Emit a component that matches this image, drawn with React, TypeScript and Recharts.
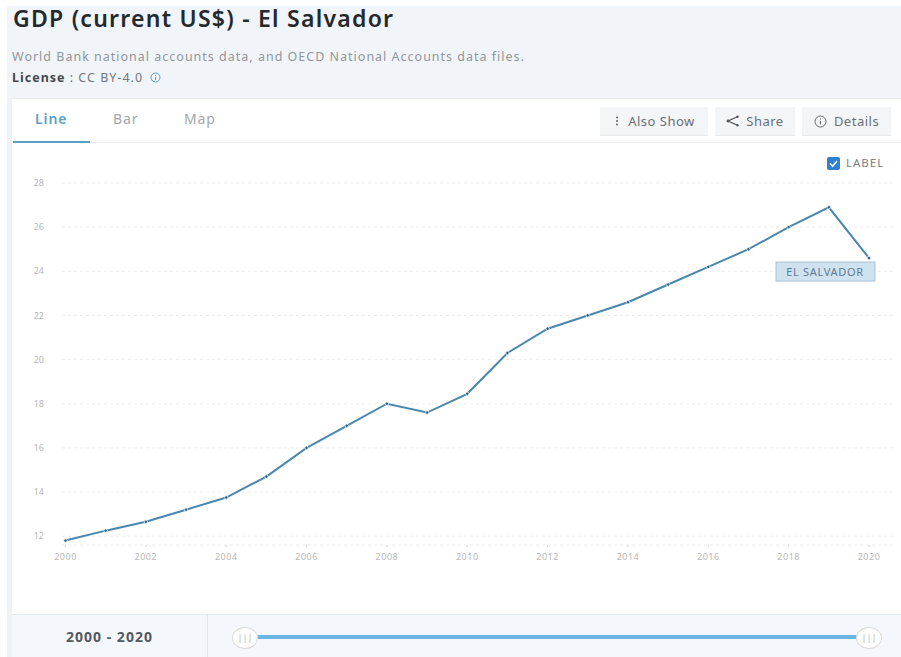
import React from "react";
import { LineChart, Line, XAxis, YAxis, CartesianGrid, LabelList } from "recharts";

const years = [2000, 2001, 2002, 2003, 2004, 2005, 2006, 2007, 2008, 2009, 2010, 2011, 2012, 2013, 2014, 2015, 2016, 2017, 2018, 2019, 2020];
const gdp = [11.8, 12.25, 12.65, 13.2, 13.75, 14.7, 16.0, 17.0, 18.0, 17.6, 18.45, 20.3, 21.4, 22.0, 22.6, 23.4, 24.2, 25.0, 26.0, 26.9, 24.6];
const yTicks = [12, 14, 16, 18, 20, 22, 24, 26, 28];
const xTicks = [2000, 2002, 2004, 2006, 2008, 2010, 2012, 2014, 2016, 2018, 2020];
const seriesName = "EL SALVADOR";

const rows = years.map((year, i) => ({ year, gdp: gdp[i] }));
const font = "'Noto Sans', sans-serif";

const abs = (left: number, top: number, extra: React.CSSProperties = {}): React.CSSProperties => ({
  position: "absolute",
  left,
  top,
  whiteSpace: "nowrap",
  ...extra,
});

function Button({ left, width, icon, text }: { left: number; width: number; icon: React.ReactNode; text: string }) {
  return (
    <div
      style={abs(left, 107, {
        width,
        height: 28,
        background: "#f3f5f7",
        borderBottom: "1px solid #e8ebee",
        color: "#6a6f74",
        fontSize: 13,
        letterSpacing: 0.5,
        lineHeight: "27px",
        display: "flex",
        justifyContent: "center",
        gap: 7,
        alignItems: "center",
      })}
    >
      {icon}
      <span>{text}</span>
    </div>
  );
}

function Handle({ cx }: { cx: number }) {
  return (
    <div
      style={abs(cx - 13, 627, {
        width: 24,
        height: 20,
        borderRadius: "50%",
        background: "#fff",
        border: "1px solid #dcdcdc",
        color: "#b5b5b5",
        fontSize: 9,
        lineHeight: "20px",
        textAlign: "center",
      })}
    >
      |||
    </div>
  );
}

// Callout box hung under the final point of the series
function SeriesTag(props: any) {
  const { x, y, index } = props;
  if (index !== years.length - 1) return null;
  return (
    <g>
      <rect x={x - 93} y={y + 4} width={99} height={19} fill="#cfe2f0" stroke="#a9c3d6" />
      <text x={x - 44} y={y + 18} textAnchor="middle" fontSize={11} letterSpacing={0.7} fill="#5f7b90" fontFamily={font}>
        {seriesName}
      </text>
    </g>
  );
}

export default function App() {
  return (
    <div style={{ position: "absolute", left: 0, top: 0, width: 901, height: 657, overflow: "hidden", background: "#fff", fontFamily: font }}>
      <div style={abs(7, 6, { width: 894, height: 92, background: "#f1f4f8" })} />
      <div style={abs(7, 98, { width: 5, height: 559, background: "#eef1f5" })} />
      <div style={abs(13, 5, { fontSize: 23, fontWeight: 600, letterSpacing: 1.25, color: "#24292e", lineHeight: "26px" })}>GDP (current US$) - El Salvador</div>
      <div style={abs(12, 49, { fontSize: 12.5, letterSpacing: 1, color: "#92979c", lineHeight: "16px" })}>
        World Bank national accounts data, and OECD National Accounts data files.
      </div>
      <div style={abs(12, 70, { fontSize: 12.5, letterSpacing: 1, color: "#72777c", lineHeight: "16px" })}>
        <b style={{ color: "#44494d" }}>License</b> : CC BY-4.0
        <svg width={11} height={11} style={{ marginLeft: 7, verticalAlign: -1 }}>
          <circle cx={5.5} cy={5.5} r={4.5} fill="none" stroke="#4aa3dc" />
          <path d="M5.5 5v3M5.5 3v1" stroke="#4aa3dc" />
        </svg>
      </div>

      <div style={abs(12, 98, { width: 889, height: 1, background: "#e9ecef" })} />
      <div style={abs(12, 142, { width: 889, height: 1, background: "#eceef0" })} />
      <div style={abs(13, 141, { width: 77, height: 2, background: "#5b9fc4" })} />
      <div style={abs(35, 109, { fontSize: 14, letterSpacing: 0.9, fontWeight: 600, color: "#5ba0c8", lineHeight: "20px" })}>Line</div>
      <div style={abs(113, 109, { fontSize: 14, letterSpacing: 0.9, color: "#a4a8ac", lineHeight: "20px" })}>Bar</div>
      <div style={abs(184, 109, { fontSize: 14, letterSpacing: 0.9, color: "#a4a8ac", lineHeight: "20px" })}>Map</div>

      <Button
        left={600}
        width={108}
        text="Also Show"
        icon={
          <svg width={8} height={12}>
            <circle cx={4} cy={2.5} r={1} fill="#666" />
            <circle cx={4} cy={6} r={1} fill="#666" />
            <circle cx={4} cy={9.5} r={1} fill="#666" />
          </svg>
        }
      />
      <Button
        left={715}
        width={80}
        text="Share"
        icon={
          <svg width={13} height={12}>
            <path d="M12 1.5L2 6L12 10.5" fill="none" stroke="#555" strokeWidth={1.3} />
            <circle cx={2} cy={6} r={1.4} fill="#555" />
            <circle cx={11.5} cy={1.7} r={1.2} fill="#555" />
            <circle cx={11.5} cy={10.3} r={1.2} fill="#555" />
          </svg>
        }
      />
      <Button
        left={802}
        width={89}
        text="Details"
        icon={
          <svg width={13} height={13}>
            <circle cx={6.5} cy={6.5} r={5.5} fill="none" stroke="#666" />
            <path d="M6.5 6v3.5M6.5 3.4v1.2" stroke="#666" />
          </svg>
        }
      />

      <svg width={13} height={13} style={abs(827, 157)}>
        <rect width={13} height={13} rx={2} fill="#2f80d0" />
        <path d="M3 6.5L5.6 9.2L10 4" fill="none" stroke="#fff" strokeWidth={1.6} />
      </svg>
      <div style={abs(846, 155, { fontSize: 11.5, letterSpacing: 1, color: "#7c8186", lineHeight: "16px" })}>LABEL</div>

      <div style={{ position: "absolute", left: 0, top: 0 }}>
        <LineChart width={901} height={657} data={rows} margin={{ top: 183, right: 8, bottom: 82, left: 0 }}>
          <CartesianGrid vertical={false} horizontal stroke="#ececec" strokeDasharray="3 3" />
          <XAxis
            dataKey="year"
            type="number"
            domain={[2000, 2020]}
            ticks={xTicks}
            padding={{ left: 3.5, right: 24 }}
            axisLine={false}
            tickLine={{ stroke: "#d5d5d5" }}
            tickSize={2}
            tickMargin={7}
            height={30}
            tick={{ fontSize: 9, letterSpacing: 0.5, fill: "#b8b8b8", fontFamily: font }}
          />
          <YAxis
            type="number"
            domain={[11.6, 28]}
            ticks={yTicks}
            axisLine={false}
            tickLine={false}
            width={62}
            tickMargin={12}
            tick={{ fontSize: 9, fill: "#b8b8b8", fontFamily: font }}
          />
          <Line
            dataKey="gdp"
            stroke="#4a87ad"
            strokeWidth={2}
            isAnimationActive={false}
            dot={{ r: 1.7, fill: "#2b5f80", stroke: "#eaf4fa", strokeWidth: 0.8 }}
          >
            <LabelList dataKey="gdp" content={SeriesTag} />
          </Line>
        </LineChart>
      </div>

      <div style={abs(12, 614, { width: 889, height: 43, background: "#f4f7fb", borderTop: "1px solid #e8ebef" })} />
      <div style={abs(207, 615, { width: 1, height: 42, background: "#e3e7eb" })} />
      <div style={abs(12, 627, { width: 195, textAlign: "center", fontSize: 14, letterSpacing: 1, fontWeight: 700, color: "#55595d", lineHeight: "20px" })}>2000 - 2020</div>
      <div style={abs(250, 635, { width: 610, height: 4, background: "#6cb6e6" })} />
      <Handle cx={245} />
      <Handle cx={869} />
    </div>
  );
}
